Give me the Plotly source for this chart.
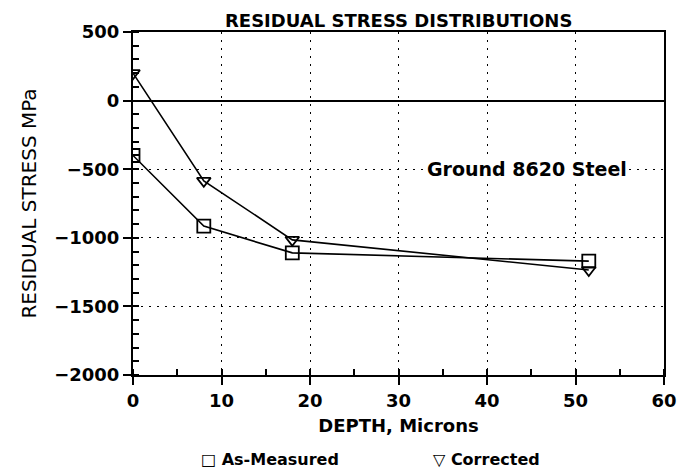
import plotly.graph_objects as go

depth_measured = [0, 8, 18, 51.5]
stress_measured = [-400, -915, -1110, -1170]

depth_corrected = [0, 8, 18, 51.5]
stress_corrected = [200, -585, -1015, -1235]

FONT = "DejaVu Sans"

fig = go.Figure()
fig.add_trace(go.Scatter(
    x=depth_measured, y=stress_measured, mode="lines+markers", name="As-Measured",
    line=dict(color="black", width=1.6),
    marker=dict(symbol="square-open", size=13, color="black", line=dict(width=1.8)),
))
fig.add_trace(go.Scatter(
    x=depth_corrected, y=stress_corrected, mode="lines+markers", name="Corrected",
    line=dict(color="black", width=1.6),
    marker=dict(symbol="triangle-down-open", size=12, color="black", line=dict(width=1.8)),
))

axis_common = dict(
    showline=True, linecolor="black", linewidth=2, mirror=True,
    showgrid=True, gridcolor="black", griddash="2px,6px", gridwidth=1.2,
    ticks="outside", ticklen=8, tickwidth=2, tickcolor="black",
    tickfont=dict(family=FONT, size=18, color="black", weight="bold"),
)

fig.update_xaxes(
    range=[0, 60], dtick=10, **axis_common,
    minor=dict(dtick=5, ticks="inside", ticklen=6, tickwidth=2, tickcolor="black", showgrid=False),
    title=dict(text="<b>DEPTH, Microns</b>", font=dict(family=FONT, size=18, color="black"), standoff=10),
    zeroline=False,
)
fig.update_yaxes(
    range=[-2000, 500], dtick=500, **axis_common,
    minor=dict(dtick=100, ticks="inside", ticklen=6, tickwidth=2, tickcolor="black", showgrid=False),
    title=dict(text="RESIDUAL STRESS MPa", font=dict(family=FONT, size=20, color="black"), standoff=12),
    zeroline=True, zerolinecolor="black", zerolinewidth=2,
)

fig.add_annotation(x=44.5, y=-500, text="<b>Ground 8620 Steel</b>", showarrow=False,
                   bgcolor="white", font=dict(family=FONT, size=19, color="black"))
fig.add_annotation(x=0.5, y=1.033, xref="paper", yref="paper", yanchor="middle",
                   text="<b>RESIDUAL STRESS DISTRIBUTIONS</b>", showarrow=False,
                   font=dict(family=FONT, size=18, color="black"))
fig.add_annotation(x=0.258, y=-0.245, xref="paper", yref="paper", xanchor="center", yanchor="middle",
                   text="<b>□ As-Measured</b>", showarrow=False,
                   font=dict(family=FONT, size=16, color="black"))
fig.add_annotation(x=0.665, y=-0.245, xref="paper", yref="paper", xanchor="center", yanchor="middle",
                   text="<b>▽ Corrected</b>", showarrow=False,
                   font=dict(family=FONT, size=16, color="black"))

# page body has an 8px margin, so the figure is sized and padded to compensate
fig.update_layout(
    width=685, height=467,
    margin=dict(l=125, r=29, t=24, b=100),
    plot_bgcolor="white", paper_bgcolor="white",
    showlegend=False,
    font=dict(family=FONT, color="black"),
)

fig.write_html("out.html")
